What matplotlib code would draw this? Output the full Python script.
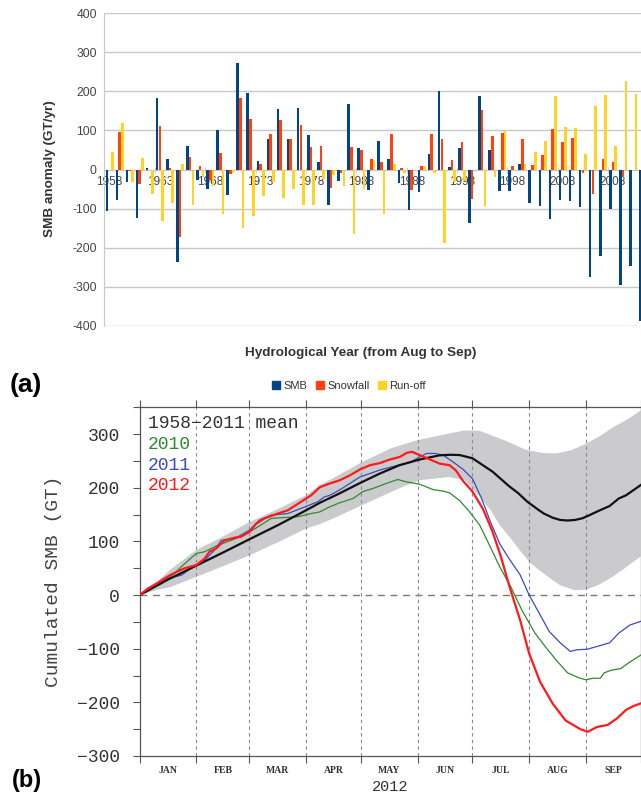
import numpy as np
import matplotlib
matplotlib.use("Agg")
import matplotlib.pyplot as plt
from matplotlib.patches import Patch
from matplotlib.ticker import MultipleLocator, FuncFormatter

# ---------------- panel (a) data ----------------
years = list(range(1958, 2012))
smb = [-106, -79, -32, -124, 3, 184, 28, -237, 61, -28,
       -50, 101, -65, 272, 197, 22, 79, 154, 78, 158,
       88, 18, -91, -29, 167, 54, -53, 72, 26, -34,
       -104, -57, 39, 200, 7, 56, -138, 188, 51, -56,
       -56, 15, -87, -93, -128, -77, -80, -97, -275, -221,
       -100, -295, -247, -388]
snowfall = [0, 97, -3, -36, 0, 111, 5, -174, 31, 9,
            -28, 43, -11, 184, 129, 13, 91, 126, 78, 114,
            57, 60, -47, -9, 58, 51, 28, 19, 92, 5,
            -53, 10, 91, 78, 25, 70, -76, 152, 87, 94,
            9, 77, 12, 36, 103, 70, 81, -10, -62, 27,
            18, -17, 0, np.nan]
runoff = [45, 118, -31, 29, -64, -131, -87, 14, -91, -20,
          -42, -113, -9, -150, -119, -68, -33, -72, -49, -91,
          -91, -25, -15, -41, -164, -49, 24, -115, 14, -9,
          0, 9, -8, -188, -32, -30, 0, -93, -19, 100,
          -5, 14, 44, 72, 188, 110, 107, 39, 163, 192,
          60, 227, 194, np.nan]
year_ticks = [1958, 1963, 1968, 1973, 1978, 1983, 1988, 1993, 1998, 2003, 2008]
n_categories = 55  # 1958-2012 (the last one is cut by the picture edge)

# ---------------- panel (b) data ----------------
month_starts = [0, 31, 60, 91, 121, 152, 182, 213, 244, 274]
month_names = ["JAN", "FEB", "MAR", "APR", "MAY", "JUN", "JUL", "AUG", "SEP"]

mean_days = [0, 15, 31, 46, 60, 76, 91, 98.5, 109, 120, 131, 142, 153, 164, 170, 175,
             182, 193, 202, 207, 212, 218, 221, 226, 230, 234, 238, 242, 246, 251, 257, 262, 266, 274]
mean_vals = [0, 28, 55, 80, 104, 131, 158, 172, 189, 208, 226, 242, 252.6, 260.5, 261.5, 261,
             255, 230, 203, 190, 174, 159, 152, 144, 140, 139, 140, 143, 149, 157, 166, 180, 186, 205]

band_hi_days = [0, 10, 17, 31, 45, 60, 76, 91, 98.5, 108, 120, 137, 151, 169, 178, 186,
                200, 211, 220, 228, 236, 244, 252, 259, 267, 274]
band_hi_vals = [0, 27, 48, 84, 108, 136, 161, 186, 205, 222, 245, 273, 288, 301, 307, 306,
                288, 271, 265, 264, 270, 282, 297, 313, 328, 344]
band_lo_days = [0, 10, 17, 31, 45, 60, 76, 91, 98.5, 108, 120, 142, 153, 169, 178, 186,
                192, 197, 203, 208, 213, 219, 225, 230, 238, 244, 251, 259, 266, 274]
band_lo_vals = [0, 10, 15, 34, 53, 74, 99, 124, 132, 146, 165, 199, 214, 220, 214, 183,
                158, 130, 105, 83, 62, 45, 30, 18, 9, 10, 19, 35, 52, 72]

red_days = [0, 4.5, 10, 15.5, 20, 24.6, 31, 35.5, 38.2, 41.9, 46.4, 51.9, 55.5, 60.1, 63.7,
            68.3, 75.6, 81, 86.5, 93.8, 98.5, 104, 109.4, 114.9, 120.4, 125.9, 131.3, 136.8,
            142.3, 146, 149, 153, 158.6, 164, 169.5, 173, 177, 182, 187.8, 193, 197.5, 202.4,
            208, 213, 219, 226, 233, 241, 245, 250, 256, 261, 266, 270, 274]
red_vals = [0, 12, 23, 35, 43, 50, 56, 68, 81, 87, 102, 107, 109, 118, 133,
            143, 152, 158, 170, 186, 201, 208, 214, 223, 234, 242, 246, 252.6,
            257.6, 265, 267, 261, 253, 245, 242, 232, 212, 193, 160, 118, 72, 14,
            -46, -109, -162, -203, -234, -250, -255, -246, -242, -230, -214, -207, -202]

blue_days = [0, 4.5, 10, 15.5, 22.8, 28.2, 35.5, 41, 44.6, 51.9, 60.1, 65.6, 72, 81, 90.1,
             97.4, 101, 104, 109.4, 114.9, 120.4, 125.9, 131.3, 136.8, 142.3, 147.7, 153.2,
             156.9, 161.4, 166, 171.4, 177, 182, 187, 192, 197, 202, 208, 213, 219, 224, 230,
             235.5, 239, 244.7, 250, 257, 262, 268, 274]
blue_vals = [0, 13, 21, 31, 37, 50, 65, 84, 102, 105, 121, 140, 149, 152, 164,
             174, 183, 186, 196, 208, 220, 226.5, 233, 238, 243, 247, 257.6,
             264, 264, 261, 248, 234, 217, 180, 135, 95, 68, 38, 0, -37, -68, -89,
             -105, -102, -101, -96, -89, -71, -56, -49]

green_days = [0, 6.4, 13.6, 19.1, 22.8, 31, 35.5, 42.8, 50, 57.4, 64.6, 72, 79.2, 86.5, 93.8,
              98.5, 104, 109.4, 116.7, 122, 127.5, 134.8, 141.2, 145.8, 153.2, 160.5, 166,
              169.5, 175, 180, 186, 191, 197, 203, 209, 216, 222, 228, 234, 240, 244, 248,
              252, 254, 258, 263, 268, 274]
green_vals = [0, 15.5, 28, 40, 53, 77.6, 80.7, 93, 102, 112, 127, 143, 144.6, 146, 152,
              155, 164.6, 172, 180, 192.8, 198.6, 208, 215.4, 211, 206.6, 196.6, 193.7,
              190.5, 176, 157, 130, 95, 52, 15, -28, -70, -97, -122, -145, -154, -158, -155,
              -155, -145, -140, -137, -125, -112]

# ---------------- figure ----------------
W, H = 641, 794
fig = plt.figure(figsize=(W / 100, H / 100), dpi=100)


def rect(x0, y0, x1, y1):
    return [x0 / W, 1 - y1 / H, (x1 - x0) / W, (y1 - y0) / H]


SANS = ["Liberation Sans", "DejaVu Sans"]
MONO = ["Liberation Mono", "DejaVu Sans Mono"]
SERIF = ["Liberation Serif", "DejaVu Serif"]

# ---------- panel (a) ----------
cat_w = 10.07
ax1 = fig.add_axes(rect(104.5, 13.3, 104.5 + n_categories * cat_w, 325.7))
x = np.arange(len(years))
ax1.bar(x - 0.27, smb, width=0.26, color="#004586", zorder=3, label="SMB")
ax1.bar(x, snowfall, width=0.26, color="#ff420e", zorder=3, label="Snowfall")
ax1.bar(x + 0.27, runoff, width=0.26, color="#ffd320", zorder=3, label="Run-off")
ax1.set_xlim(-0.5, n_categories - 0.5)
ax1.set_ylim(-400, 400)
ax1.set_yticks(range(-400, 401, 100))
ax1.yaxis.set_major_formatter(FuncFormatter(lambda v, p: "%d" % v))
ax1.yaxis.grid(True, color="#c8c8c8", lw=1.0)
ax1.set_axisbelow(True)
for s in ["top", "right"]:
    ax1.spines[s].set_visible(False)
ax1.spines["left"].set_color("#c8c8c8")
ax1.spines["bottom"].set_position(("data", 0))
ax1.spines["bottom"].set_visible(False)
ax1.set_xticks([years.index(y) for y in year_ticks])
ax1.set_xticklabels([str(y) for y in year_ticks], family=SANS, fontsize=8.5, color="#444444")
ax1.set_xticks(np.arange(-0.5, n_categories, 5), minor=True)
ax1.tick_params(axis="x", which="major", length=0, pad=5.0)
ax1.tick_params(axis="x", which="minor", length=4, direction="inout", color="#c8c8c8")
ax1.tick_params(axis="y", length=0, pad=5.5, labelsize=8.7, labelcolor="#444444")
for t in ax1.get_yticklabels():
    t.set_family(SANS)
ax1.set_ylabel("SMB anomaly (GT/yr)", family=SANS, fontsize=9.7, fontweight="bold", color="#333333")
ax1.yaxis.set_label_coords((50 - 104.5) / (n_categories * cat_w), 0.5016)
ax1.yaxis.label.set_verticalalignment("center")
ax1.set_xlabel("Hydrological Year (from Aug to Sep)", family=SANS, fontsize=9.7,
               fontweight="bold", color="#333333")
ax1.xaxis.set_label_coords((360.6 - 104.5) / (n_categories * cat_w), (325.7 - 353.3) / 312.4)
ax1.xaxis.label.set_verticalalignment("center")

handles = [Patch(color="#004586"), Patch(color="#ff420e"), Patch(color="#ffd320")]
fig.legend(handles, ["SMB", "Snowfall", "Run-off"], loc="center",
           bbox_to_anchor=(349 / W, 1 - 385.7 / H), ncol=3, frameon=False,
           handlelength=0.7, handleheight=0.7, handletextpad=0.3, columnspacing=0.8,
           prop={"family": SANS, "size": 8})
for t in fig.legends[0].get_texts():
    t.set_color("#333333")

fig.text(26 / W, 1 - 385 / H, "(a)", family=SANS, fontsize=19, fontweight="bold",
         ha="center", va="center")

# ---------- panel (b) ----------
ax2 = fig.add_axes(rect(139.7, 407.3, 640.7, 756))
poly_x = list(band_hi_days) + list(band_lo_days[::-1])
poly_y = list(band_hi_vals) + list(band_lo_vals[::-1])
ax2.fill(poly_x, poly_y, color="#cbcbcd", lw=0, zorder=1)
for d in month_starts[1:-1]:
    ax2.axvline(d, color="#8a8a8a", lw=0.8, ls=(0, (3, 3)), zorder=2)
ax2.axhline(0, color="#7a7a7a", lw=1.0, ls=(0, (5, 4)), zorder=2)
ax2.plot(green_days, green_vals, color="#2e8b2e", lw=0.9, zorder=3)
ax2.plot(blue_days, blue_vals, color="#3a4cc0", lw=0.9, zorder=4)
ax2.plot(mean_days, mean_vals, color="#111111", lw=1.6, zorder=5)
ax2.plot(red_days, red_vals, color="#ff1a1a", lw=1.6, zorder=6)

ax2.set_xlim(0, 274)
ax2.set_ylim(-300, 350)
ax2.set_yticks(range(-300, 301, 100))
ax2.yaxis.set_minor_locator(MultipleLocator(50))
for s in ax2.spines.values():
    s.set_color("#555555")
    s.set_linewidth(0.9)
ax2.tick_params(axis="y", which="both", direction="out", length=5.3, width=0.8,
                color="#555555", pad=8.9, labelsize=13, labelcolor="#333333")
for t in ax2.get_yticklabels():
    t.set_family(MONO)
ax2.set_xticks(month_starts)
ax2.set_xticklabels([])
mids = [(month_starts[i] + month_starts[i + 1]) / 2 for i in range(len(month_names))]
ax2.set_xticks(mids, minor=True)
ax2.set_xticklabels(month_names, minor=True, family=SERIF, fontsize=7, fontweight="bold",
                    color="#333333")
ax2.tick_params(axis="x", which="major", direction="out", length=5.3, width=0.8,
                color="#555555", top=True)
ax2.tick_params(axis="x", which="minor", length=0, pad=7.5)

ax2.set_ylabel("Cumulated SMB (GT)", family=MONO, fontsize=14, color="#444444")
ax2.yaxis.set_label_coords((54 - 139.7) / 501, 0.5)
ax2.yaxis.label.set_verticalalignment("center")
ax2.set_xlabel("2012", family=MONO, fontsize=11, color="#333333")
ax2.xaxis.set_label_coords(0.5, (756 - 786.7) / 348.7)
ax2.xaxis.label.set_verticalalignment("center")

leg_items = [("1958\u22122011 mean", "#333333"), ("2010", "#2e8b2e"),
             ("2011", "#3a4cc0"), ("2012", "#ff1a1a")]
for k, (txt, col) in enumerate(leg_items):
    ax2.text((148 - 139.7) / 501, (756 - (424 + 20.6 * k)) / 348.7, txt, family=MONO,
             fontsize=13, color=col, ha="left", va="center", transform=ax2.transAxes, zorder=7)

fig.text(27 / W, 1 - 780 / H, "(b)", family=SANS, fontsize=17, fontweight="bold",
         ha="center", va="center")

fig.savefig("out.png", dpi=100)
